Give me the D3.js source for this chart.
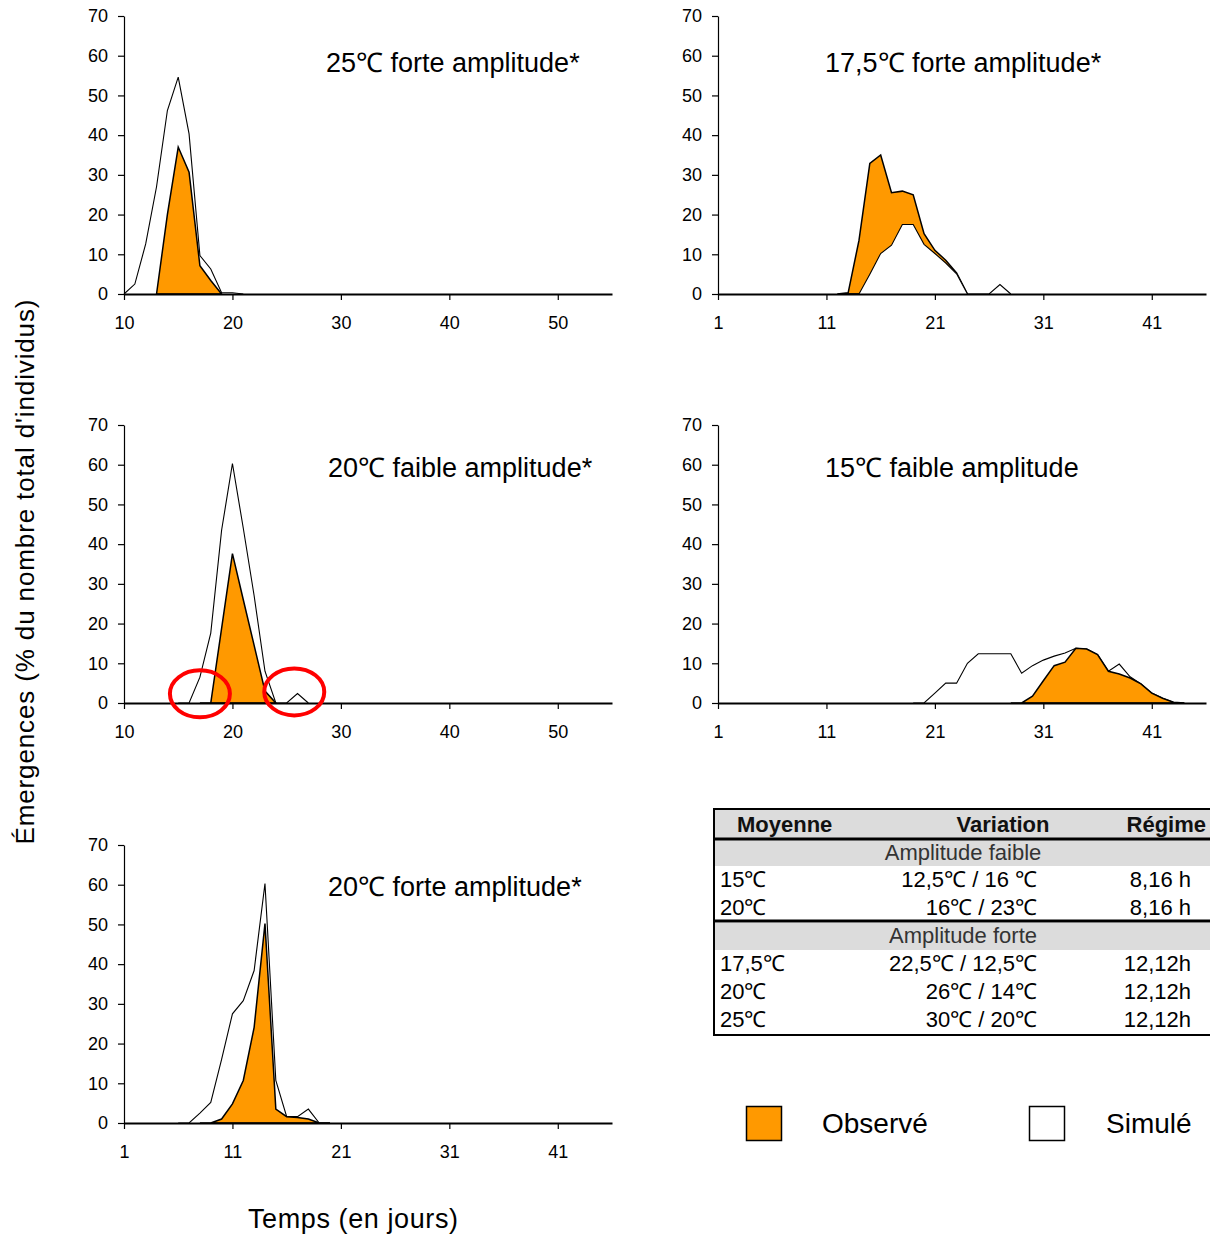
<!DOCTYPE html>
<html><head><meta charset="utf-8">
<script src="https://cdn.jsdelivr.net/npm/d3@7"></script>
<style>
html,body{margin:0;padding:0;background:#fff;}
svg{display:block;font-family:"Liberation Sans",Arial,Helvetica,sans-serif;}
</style></head>
<body>
<svg id="chart" width="1210" height="1238"></svg>
<script>
// ---------- DATA ----------
const yTicks = [0,10,20,30,40,50,60,70];
const xTicksA = [10,20,30,40,50];       // panels 25°C forte & 20°C faible
const xTicksB = [1,11,21,31,41];        // other panels

const titles = ["25℃ forte amplitude*","17,5℃ forte amplitude*","20℃ faible amplitude*","15℃ faible amplitude","20℃ forte amplitude*"];

// 25°C forte amplitude
const sim25Start = 10;
const sim25 = [0,2.5,12.6,27,46.2,54.6,40.3,9.7,6.3,0.3,0.3,0];
const obs25Start = 13;
const obs25 = [0,20,37,30.7,7.1,3.4,0];

// 17,5°C forte amplitude
const sim175Start = 13;
const sim175 = [0,0,5,10.2,12.3,17.5,17.5,12.5,10.2,7.8,5.1,0,0,0,2.4,0];
const obs175Start = 12;
const obs175 = [0,0.3,13.5,32.9,35,25.5,25.9,25,15.2,11,8.5,5.3,0];

// 20°C faible amplitude
const sim20fStart = 15;
const sim20f = [0,0,6.5,17.6,43.5,60.3,44,27,8,0,0,2.4,0];
const obs20fStart = 17;
const obs20f = [0,0,18.8,37.6,26,14.5,3,0];

// 15°C faible amplitude
const sim15Start = 19;
const sim15 = [0,0,2.5,5,5,10,12.4,12.4,12.4,12.4,7.5,9.4,10.8,11.8,12.6,13.8,13.6,12.2,8.0,9.8,6.6,4.8,2.5,1.2,0.2,0];
const obs15Start = 28;
const obs15 = [0,0,1.7,5.6,9.4,10.3,13.8,13.6,12.2,8.0,7.3,6.3,4.8,2.5,1.2,0.2,0];

// 20°C forte amplitude
const sim20FStart = 6;
const sim20F = [0,0,2.5,5.2,16,27.5,30.8,38.4,60.3,10.7,1.6,1.6,3.5,0,0];
const obs20FStart = 8;
const obs20F = [0,0,1.0,4.8,10.7,24.1,50.2,3.5,1.6,1.4,1.0,0,0];

// highlighted points (panel 20°C faible amplitude): [day, value]
const circles = [[17.0,2.3],[25.7,2.8]];

// table
const tableHeader = ["Moyenne","Variation","Régime"];
const groupFaible = "Amplitude faible";
const rowsFaible = [["15℃","12,5℃ / 16 ℃","8,16 h"],["20℃","16℃ / 23℃","8,16 h"]];
const groupForte = "Amplitude forte";
const rowsForte = [["17,5℃","22,5℃ / 12,5℃","12,12h"],["20℃","26℃ / 14℃","12,12h"],["25℃","30℃ / 20℃","12,12h"]];

const legendLabels = ["Observé","Simulé"];
const yTitle = "Émergences (% du nombre total d'individus)";
const xTitle = "Temps (en jours)";

// ---------- LAYOUT ----------
const ORANGE = "#FF9900";
const W = 488, H = 278;
const toPts = (start, vals) => vals.map((v,i)=>({day:start+i, v}));

const panels = [
  {left:124, top:16,  dom:[10,55], ticks:xTicksA, title:titles[0], tx:326, ty:65,
   sim:toPts(sim25Start,sim25), obs:toPts(obs25Start,obs25), simOnTop:false},
  {left:718, top:16,  dom:[1,46], ticks:xTicksB, title:titles[1], tx:825, ty:65,
   sim:toPts(sim175Start,sim175), obs:toPts(obs175Start,obs175), simOnTop:true},
  {left:124, top:425, dom:[10,55], ticks:xTicksA, title:titles[2], tx:328, ty:470,
   sim:toPts(sim20fStart,sim20f), obs:toPts(obs20fStart,obs20f), simOnTop:false, circles:circles},
  {left:718, top:425, dom:[1,46], ticks:xTicksB, title:titles[3], tx:825, ty:470,
   sim:toPts(sim15Start,sim15), obs:toPts(obs15Start,obs15), simOnTop:false},
  {left:124, top:845, dom:[1,46], ticks:xTicksB, title:titles[4], tx:328, ty:889,
   sim:toPts(sim20FStart,sim20F), obs:toPts(obs20FStart,obs20F), simOnTop:false},
];

const svg = d3.select("#chart");

panels.forEach(p=>{
  const g = svg.append("g").attr("transform",`translate(${p.left},${p.top})`);
  const x = d3.scaleLinear().domain(p.dom).range([0,W]);
  const y = d3.scaleLinear().domain([0,70]).range([H,0]);

  const area = d3.area().x(d=>x(d.day)).y0(y(0)).y1(d=>y(d.v));
  const line = d3.line().x(d=>x(d.day)).y(d=>y(d.v));

  const drawSim = ()=>{
    g.append("path").datum(p.sim).attr("d",area).attr("fill","#fff");
    g.append("path").datum(p.sim).attr("d",line).attr("fill","none").attr("stroke","#000").attr("stroke-width",1.1).attr("stroke-linejoin","miter");
  };
  const drawObs = ()=>{
    g.append("path").datum(p.obs).attr("d",area).attr("fill",ORANGE).attr("stroke","#000").attr("stroke-width",1.5).attr("stroke-linejoin","miter");
  };
  if(p.simOnTop){ drawObs(); drawSim(); } else { drawSim(); drawObs(); }

  // y axis
  const ya = g.append("g").call(d3.axisLeft(y).tickValues(yTicks).tickSize(6).tickPadding(10).tickSizeOuter(0));
  ya.select(".domain").attr("stroke","#000").attr("stroke-width",1.2);
  ya.selectAll(".tick line").attr("stroke","#000").attr("stroke-width",1.2);
  ya.selectAll(".tick text").attr("font-size",18).attr("fill","#000").attr("font-family","'Liberation Sans',Arial,sans-serif");

  // x axis
  const xa = g.append("g").attr("transform",`translate(0,${H})`)
    .call(d3.axisBottom(x).tickValues(p.ticks).tickSize(6).tickPadding(16).tickSizeOuter(0));
  xa.select(".domain").attr("stroke","#000").attr("stroke-width",2);
  xa.selectAll(".tick line").attr("stroke","#000").attr("stroke-width",1.2);
  xa.selectAll(".tick text").attr("font-size",18).attr("fill","#000").attr("font-family","'Liberation Sans',Arial,sans-serif");

  if(p.circles){
    g.selectAll("ellipse.hl").data(p.circles).enter().append("ellipse")
      .attr("cx",d=>x(d[0])).attr("cy",d=>y(d[1])).attr("rx",30).attr("ry",23.5)
      .attr("fill","none").attr("stroke","#FF0000").attr("stroke-width",4);
  }

  svg.append("text").attr("x",p.tx).attr("y",p.ty).attr("dominant-baseline","middle")
    .attr("font-size",27).attr("fill","#000").text(p.title);
});

// axis titles
svg.append("text").attr("transform","translate(27,572) rotate(-90)").attr("text-anchor","middle")
  .attr("dominant-baseline","middle").attr("font-size",26).attr("textLength",545).attr("lengthAdjust","spacing").text(yTitle);
svg.append("text").attr("x",353).attr("y",1221).attr("text-anchor","middle")
  .attr("dominant-baseline","middle").attr("font-size",27).attr("textLength",210).attr("lengthAdjust","spacing").text(xTitle);

// ---------- TABLE ----------
const tb = svg.append("g");
const TL = 713, TR = 1216;
tb.append("rect").attr("x",TL).attr("y",810).attr("width",TR-TL).attr("height",28).attr("fill","#dcdcdc");
tb.append("rect").attr("x",TL).attr("y",840).attr("width",TR-TL).attr("height",26).attr("fill","#dcdcdc");
tb.append("rect").attr("x",TL).attr("y",923).attr("width",TR-TL).attr("height",27).attr("fill","#dcdcdc");
tb.append("rect").attr("x",TL+1).attr("y",809).attr("width",TR-TL).attr("height",226).attr("fill","none").attr("stroke","#000").attr("stroke-width",2);
tb.append("line").attr("x1",TL).attr("x2",TR).attr("y1",839).attr("y2",839).attr("stroke","#000").attr("stroke-width",3);
tb.append("line").attr("x1",TL).attr("x2",TR).attr("y1",921).attr("y2",921).attr("stroke","#000").attr("stroke-width",3);

const tt = (x,y,s,anchor,bold,color)=>tb.append("text").attr("x",x).attr("y",y).attr("text-anchor",anchor)
  .attr("dominant-baseline","middle").attr("font-size",22).attr("font-weight",bold?"bold":"normal")
  .attr("fill",color||"#000").text(s);
tt(737,826,tableHeader[0],"start",true,"#111");
tt(1003,826,tableHeader[1],"middle",true,"#111");
tt(1206,826,tableHeader[2],"end",true,"#111");
tt(963,854,groupFaible,"middle",false,"#333");
rowsFaible.forEach((r,i)=>{ const yy=881+i*28; tt(720,yy,r[0],"start"); tt(1037,yy,r[1],"end"); tt(1191,yy,r[2],"end"); });
tt(963,937,groupForte,"middle",false,"#333");
rowsForte.forEach((r,i)=>{ const yy=965+i*28; tt(720,yy,r[0],"start"); tt(1037,yy,r[1],"end"); tt(1191,yy,r[2],"end"); });

// ---------- LEGEND ----------
const lg = svg.append("g");
lg.append("rect").attr("x",746.5).attr("y",1106.5).attr("width",35).attr("height",34).attr("fill",ORANGE).attr("stroke","#000").attr("stroke-width",1.5);
lg.append("text").attr("x",822).attr("y",1126).attr("dominant-baseline","middle").attr("font-size",28).text(legendLabels[0]);
lg.append("rect").attr("x",1029.5).attr("y",1106.5).attr("width",35).attr("height",34).attr("fill","#fff").attr("stroke","#000").attr("stroke-width",1.5);
lg.append("text").attr("x",1106).attr("y",1126).attr("dominant-baseline","middle").attr("font-size",28).text(legendLabels[1]);
</script>
</body></html>
